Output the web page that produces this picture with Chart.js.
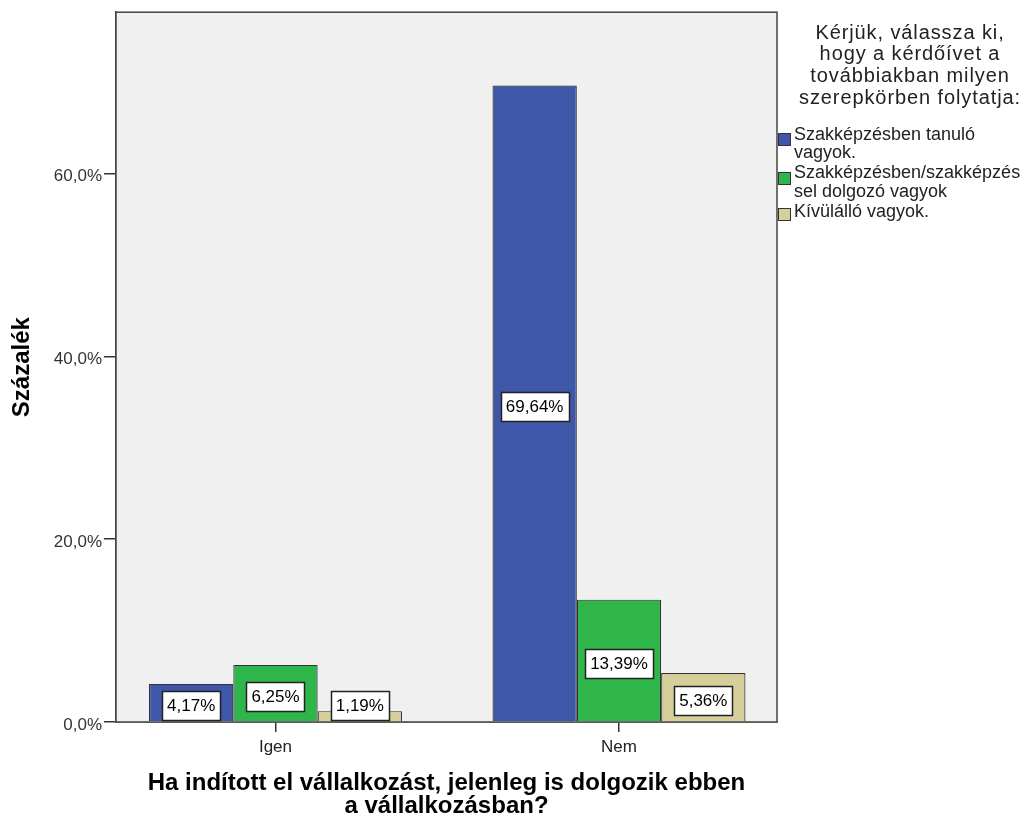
<!DOCTYPE html>
<html>
<head>
<meta charset="utf-8">
<script src="https://cdn.jsdelivr.net/npm/chart.js@4.4.1/dist/chart.umd.min.js"></script>
<style>
  html, body { margin: 0; padding: 0; background: #fff; }
  canvas { display: block; }
</style>
</head>
<body>
<canvas id="bar-chart" width="1030" height="821"></canvas>
<script>
// #region Data
// ---------------------------------------
const categories = ["Igen", "Nem"];
const seriesNames = [
  "Szakképzésben tanuló vagyok.",
  "Szakképzésben/szakképzéssel dolgozó vagyok",
  "Kívülálló vagyok.",
];
const legendLines = [
  ["Szakképzésben tanuló", "vagyok."],
  ["Szakképzésben/szakképzés", "sel dolgozó vagyok"],
  ["Kívülálló vagyok."],
];
const tanulo = [4.17, 69.64];
const dolgozo = [6.25, 13.39];
const kivulallo = [1.19, 5.36];
const yTicks = [0, 20, 40, 60];
const legendTitle = ["Kérjük, válassza ki,", "hogy a kérdőívet a", "továbbiakban milyen", "szerepkörben folytatja:"];
const xTitle = ["Ha indított el vállalkozást, jelenleg is dolgozik ebben", "a vállalkozásban?"];
const yTitle = "Százalék";
const colors = ["#3e57a9", "#2fb64a", "#d6cf99"];
// ---------------------------------------
// #endregion

const FONT = "'Liberation Sans', Arial, sans-serif";
const fmt = (v, d) => v.toFixed(d).replace(".", ",") + "%";
const toPoints = (arr) => arr.map((y, i) => ({ x: i, y: y }));

// plot background and frame
const framePlugin = {
  id: "frame",
  beforeDatasetsDraw(chart) {
    const { ctx, chartArea: a } = chart;
    ctx.save();
    ctx.fillStyle = "#f0f0f0";
    ctx.fillRect(a.left, a.top, a.right - a.left, a.bottom - a.top);
    ctx.restore();
  },
  afterDatasetsDraw(chart) {
    const { ctx, chartArea: a } = chart;
    ctx.save();
    ctx.strokeStyle = "#444";
    ctx.lineWidth = 1.5;
    ctx.strokeRect(a.left, a.top, a.right - a.left, a.bottom - a.top);
    ctx.restore();
  },
};

// white value boxes on the bars
const valueLabels = {
  id: "valueLabels",
  afterDatasetsDraw(chart) {
    const { ctx } = chart;
    ctx.save();
    ctx.font = "17px " + FONT;
    ctx.textAlign = "center";
    ctx.textBaseline = "middle";
    chart.data.datasets.forEach((ds, di) => {
      const meta = chart.getDatasetMeta(di);
      meta.data.forEach((bar, i) => {
        const txt = fmt(ds.data[i].y, 2);
        const w = Math.round(ctx.measureText(txt).width + 10);
        const h = 29;
        let cy = (bar.y + bar.base) / 2 + 3;
        if (cy + h / 2 > bar.base - 1) cy = bar.base - 1 - h / 2;
        const x0 = Math.round(bar.x - w / 2) + 0.5;
        const y0 = Math.round(cy - h / 2) + 0.5;
        ctx.fillStyle = "#fff";
        ctx.fillRect(x0, y0, w, h);
        ctx.strokeStyle = "#222";
        ctx.lineWidth = 1.5;
        ctx.strokeRect(x0, y0, w, h);
        ctx.fillStyle = "#000";
        ctx.fillText(txt, bar.x, cy + 1);
      });
    });
    ctx.restore();
  },
};

// legend on the right, with wrapped lines
const sideLegend = {
  id: "sideLegend",
  afterDraw(chart) {
    const { ctx } = chart;
    ctx.save();
    ctx.fillStyle = "#222";
    ctx.textBaseline = "middle";
    ctx.font = "20px " + FONT;
    ctx.letterSpacing = "0.9px";
    ctx.textAlign = "center";
    legendTitle.forEach((line, i) => {
      ctx.fillText(line, 910, 33 + i * 21.7);
    });
    ctx.letterSpacing = "0px";
    ctx.font = "18px " + FONT;
    ctx.textAlign = "left";
    let y = 135;
    chart.data.datasets.forEach((ds, di) => {
      const lines = legendLines[di];
      const by = Math.round(y + (lines.length > 1 ? 4 : 1.5) - 6) + 0.5;
      ctx.fillStyle = ds.backgroundColor;
      ctx.fillRect(778.5, by, 12, 12);
      ctx.strokeStyle = "#333";
      ctx.lineWidth = 1;
      ctx.strokeRect(778.5, by, 12, 12);
      ctx.fillStyle = "#222";
      lines.forEach((line, li) => {
        ctx.fillText(line, 794, y + li * 18.5);
      });
      y += (lines.length - 1) * 18.5 + 20;
    });
    ctx.restore();
  },
};

new Chart(document.getElementById("bar-chart"), {
  type: "bar",
  data: {
    datasets: [tanulo, dolgozo, kivulallo].map((vals, i) => ({
      label: seriesNames[i],
      data: toPoints(vals),
      backgroundColor: colors[i],
      borderColor: "#333",
      borderWidth: 1.2,
      barPercentage: 1,
      categoryPercentage: 0.7365,
    })),
  },
  options: {
    responsive: false,
    animation: false,
    devicePixelRatio: 1,
    layout: { padding: { left: 0, top: 10, right: 253, bottom: 0 } },
    plugins: {
      legend: { display: false },
      tooltip: { enabled: false },
    },
    scales: {
      x: {
        type: "linear",
        min: -0.4643,
        max: 1.46,
        offset: false,
        afterFit: (s) => { s.height = 99; },
        afterBuildTicks: (s) => { s.ticks = categories.map((c, i) => ({ value: i })); },
        grid: { offset: false, drawOnChartArea: false, drawTicks: true, tickLength: 10, color: "#333", lineWidth: 1.5 },
        border: { display: true, color: "#444", width: 1.5 },
        ticks: {
          callback: (v) => categories[v],
          color: "#222",
          padding: 5,
          maxRotation: 0,
          font: { family: FONT, size: 17 },
        },
        title: {
          display: true,
          text: xTitle,
          color: "#000",
          padding: { top: 0, bottom: 3.5 },
          font: { family: FONT, size: 24, weight: "bold", lineHeight: 0.96 },
        },
      },
      y: {
        min: 0,
        max: 77.67,
        afterFit: (s) => { s.width = 116; },
        afterBuildTicks: (s) => { s.ticks = yTicks.map((v) => ({ value: v })); },
        grid: { drawOnChartArea: false, drawTicks: true, tickLength: 12, color: "#333", lineWidth: 1.5 },
        border: { display: true, color: "#444", width: 1.5 },
        ticks: {
          callback: (v) => fmt(v, 1),
          color: "#333",
          padding: 2,
          labelOffset: 3,
          font: { family: FONT, size: 17 },
        },
        title: {
          display: true,
          text: yTitle,
          color: "#000",
          padding: { top: 8, bottom: 0 },
          font: { family: FONT, size: 24, weight: "bold" },
        },
      },
    },
  },
  plugins: [framePlugin, valueLabels, sideLegend],
});
</script>
</body>
</html>
